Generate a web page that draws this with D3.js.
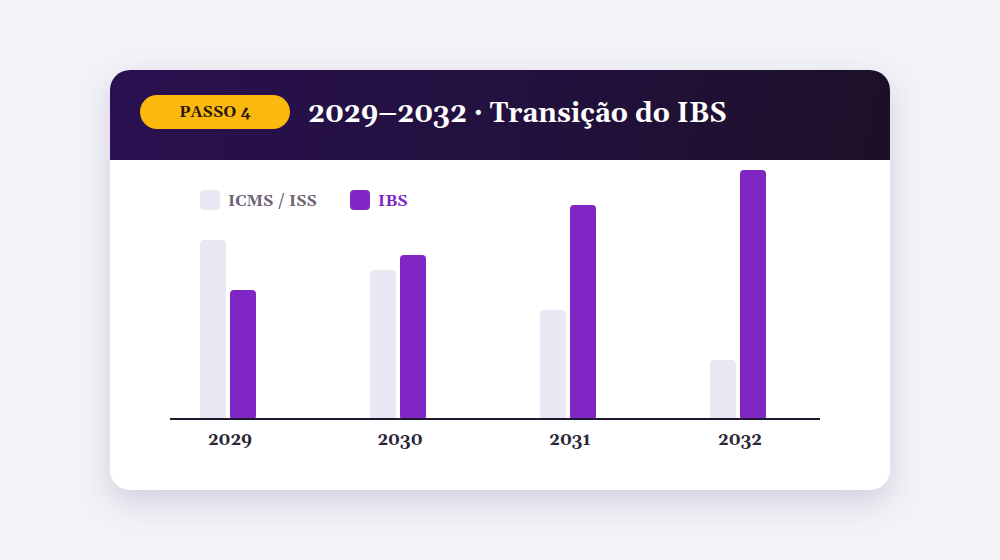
<!DOCTYPE html>
<html>
<head>
<meta charset="utf-8">
<script src="https://cdn.jsdelivr.net/npm/d3@7"></script>
<style>
  html, body { margin: 0; padding: 0; background: #f3f2f7; }
  #stage { position: relative; width: 1000px; height: 560px; overflow: hidden; }
  .card {
    position: absolute; left: 110px; top: 70px; width: 780px; height: 420px;
    background: #fff; border-radius: 20px; overflow: hidden;
    box-shadow: 0 12px 30px rgba(70, 50, 110, 0.18);
    font-family: Gelasio, Georgia, serif;
  }
  .head {
    position: relative; height: 90px;
    background: linear-gradient(100deg, #2a1050 0%, #22113d 55%, #1c1028 100%);
  }
  .badge {
    position: absolute; left: 30px; top: 25px; width: 150px; height: 34px;
    border-radius: 17px; background: #fbb80d; color: #2a1810;
    font-weight: bold; font-size: 16px; line-height: 34px; text-align: center;
  }
  .title {
    position: absolute; left: 198px; top: 26px; color: #fff;
    font-weight: bold; font-size: 27px; line-height: 36px; white-space: nowrap;
  }
  svg { display: block; }
</style>
</head>
<body>
<div id="stage">
  <div class="card">
    <div class="head">
      <div class="badge">PASSO 4</div>
      <div class="title">2029–2032 · Transição do IBS</div>
    </div>
    <div id="chart"></div>
  </div>
</div>
<script>
var years = ["2029", "2030", "2031", "2032"];
var seriesNames = ["ICMS / ISS", "IBS"];
var icmsValues = [72, 60, 44, 24];
var ibsValues = [52, 66, 86, 100];
var seriesColors = ["#e9e7f1", "#8026c4"];
var legendTextColors = ["#6b6373", "#8026c4"];

var svgWidth = 780;
var svgHeight = 330;
var fontStack = "Gelasio, Georgia, serif";

var svg = d3.select("#chart").append("svg")
  .attr("width", svgWidth)
  .attr("height", svgHeight);

var xBand = d3.scaleBand()
  .domain(years)
  .range([90, 770]);

var xInner = d3.scaleOrdinal()
  .domain(seriesNames)
  .range([0, 30]);

var yScale = d3.scaleLinear()
  .domain([0, 100])
  .range([260, 10]);

var barWidth = 26;

var rows = years.map(function(year, i) {
  return { year: year, values: [icmsValues[i], ibsValues[i]] };
});

// legend
var legend = svg.append("g").attr("transform", "translate(90, 30)");
var legendX = [0, 150];
seriesNames.forEach(function(name, i) {
  var g = legend.append("g").attr("transform", `translate(${legendX[i]}, 0)`);
  g.append("rect")
    .attr("width", 20).attr("height", 20).attr("rx", 4)
    .attr("fill", seriesColors[i]);
  g.append("text")
    .attr("x", 28).attr("y", 16)
    .attr("font-family", fontStack)
    .attr("font-weight", "bold")
    .attr("font-size", 16)
    .attr("fill", legendTextColors[i])
    .text(name);
});

// bars
var groups = svg.selectAll(".year")
  .data(rows)
  .enter()
  .append("g")
  .attr("class", "year")
  .attr("transform", d => `translate(${xBand(d.year)}, 0)`);

groups.selectAll("rect")
  .data(d => d.values.map((v, i) => ({ name: seriesNames[i], value: v, i: i })))
  .enter()
  .append("rect")
  .attr("x", d => xInner(d.name))
  .attr("y", d => yScale(d.value))
  .attr("width", barWidth)
  .attr("height", d => yScale(0) - yScale(d.value))
  .attr("rx", 4)
  .attr("fill", d => seriesColors[d.i]);

// baseline
svg.append("line")
  .attr("x1", 60).attr("x2", 710)
  .attr("y1", yScale(0) - 1).attr("y2", yScale(0) - 1)
  .attr("stroke", "#1f1830")
  .attr("stroke-width", 2);

// year labels, centred under each pair of bars
var xAxis = d3.axisBottom(xBand).tickSize(0).tickPadding(0);
var axisG = svg.append("g")
  .attr("transform", `translate(${30 - xBand.bandwidth() / 2}, 273)`)
  .call(xAxis);
axisG.select(".domain").remove();
axisG.selectAll("text")
  .attr("font-family", fontStack)
  .attr("font-weight", "bold")
  .attr("font-size", 17)
  .attr("fill", "#2b2636");
</script>
</body>
</html>
